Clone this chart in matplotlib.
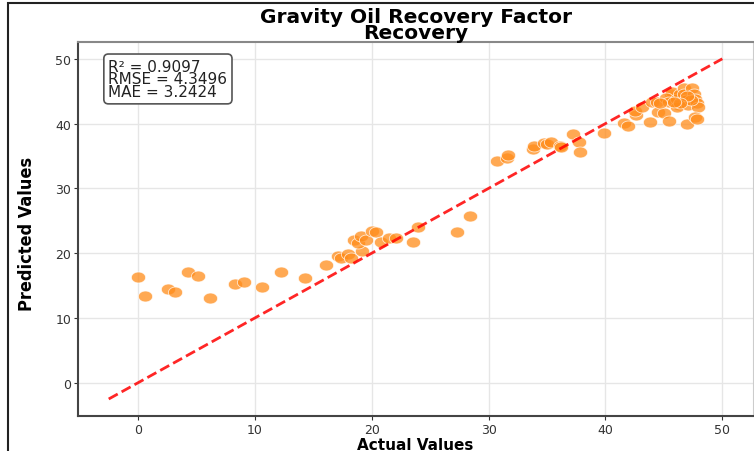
import numpy as np
import matplotlib.pyplot as plt
from matplotlib import font_manager
from matplotlib.patches import Rectangle

# Actual vs predicted values
actual = [0.0, 0.6, 2.6, 3.2, 4.3, 5.1, 6.2, 8.3, 9.1, 10.6, 12.2, 14.3, 16.1,
          17.1, 17.4, 18.0, 18.2, 19.2, 18.5, 18.8, 19.1, 19.5, 20.0, 20.4, 20.8,
          21.5, 22.1, 23.5, 24.0, 27.3, 28.4, 30.7, 31.6, 31.7, 33.8, 33.9, 34.7,
          35.0, 35.3, 36.1, 36.2, 37.2, 37.7, 37.8, 39.9, 41.6, 41.9, 42.6, 42.5,
          43.1, 43.8, 44.0, 44.4, 44.5, 45.0, 45.4, 45.6, 45.7, 45.2, 45.4, 46.1,
          46.3, 46.1, 46.4, 46.7, 46.7, 46.9, 47.1, 47.0, 47.4, 47.6, 47.7, 47.8,
          47.9, 47.7, 47.8, 47.3, 47.0, 46.4, 45.9, 44.7]
predicted = [16.4, 13.4, 14.5, 14.0, 17.1, 16.5, 13.1, 15.2, 15.6, 14.8, 17.1, 16.2, 18.2,
             19.6, 19.2, 19.9, 19.2, 20.3, 22.0, 21.6, 22.6, 22.1, 23.4, 23.2, 21.8,
             22.4, 22.3, 21.8, 24.1, 23.3, 25.7, 34.2, 34.7, 35.1, 36.1, 36.6, 37.0,
             36.8, 37.1, 36.6, 36.4, 38.4, 37.1, 35.6, 38.6, 40.1, 39.6, 41.4, 41.9,
             42.5, 40.3, 43.3, 43.4, 41.8, 41.6, 40.4, 44.5, 44.8, 43.9, 43.3, 43.8,
             42.8, 42.5, 44.5, 45.5, 44.6, 43.7, 42.9, 40.0, 45.5, 44.6, 43.8, 43.2,
             42.5, 41.0, 40.7, 43.6, 44.2, 43.2, 43.3, 43.2]
ideal = [-2.5, 50]
metrics = "R² = 0.9097\nRMSE = 4.3496\nMAE = 3.2424"

# a narrow bold font for the y label, if one is installed
narrow = None
for f in font_manager.fontManager.ttflist:
    if ('Narrow' in f.name or 'Condensed' in f.name or f.stretch in ('condensed', 'semi-condensed')) \
            and f.weight in ('bold', 700):
        narrow = f.fname
        break
if narrow:
    ylab_font = font_manager.FontProperties(fname=narrow, size=13)
else:
    ylab_font = font_manager.FontProperties(family='Roboto', weight='bold', size=12.5)

fig = plt.figure(figsize=(7.54, 4.52), dpi=100)
ax = fig.add_axes([0.1035, 0.0774, 0.8952, 0.828])

# slightly wide ellipse marker (reference image is stretched horizontally)
t = np.linspace(0, 2 * np.pi, 60)
ell = np.column_stack([1.3 * np.cos(t), np.sin(t)])

ax.scatter(actual, predicted, marker=ell, s=105, color='#ff8c1a', alpha=0.75,
           edgecolors='white', linewidths=0.6, zorder=3)
ax.plot(ideal, ideal, 'r--', lw=2, alpha=0.85, zorder=4)

ax.set_xticks([0, 10, 20, 30, 40, 50])
ax.set_yticks([0, 10, 20, 30, 40, 50])
ax.grid(True, color='#e6e6e6', lw=1)
ax.set_axisbelow(True)
ax.tick_params(labelsize=9, labelcolor='#333333', color='#333333', length=3, pad=2)

ax.spines['left'].set_color('#444444')
ax.spines['bottom'].set_color('#444444')
ax.spines['left'].set_linewidth(1.5)
ax.spines['bottom'].set_linewidth(1.5)
ax.spines['top'].set_color('#888888')
ax.spines['top'].set_linewidth(1.5)
ax.spines['right'].set_color('#cccccc')

ax.set_title('Gravity Oil Recovery Factor\nRecovery', fontsize=14.5,
             fontweight='bold', linespacing=0.8, pad=1)
ax.set_xlabel('Actual Values', fontsize=11, fontweight='bold')
ax.xaxis.set_label_coords(0.5, -0.055)
ax.set_ylabel('Predicted Values', fontproperties=ylab_font)
ax.yaxis.set_label_coords(-0.062, 0.49)

ax.text(0.045, 0.955, metrics, transform=ax.transAxes, fontsize=11,
        va='top', ha='left', linespacing=0.82, color='#222222',
        bbox=dict(boxstyle='round,pad=0.3', facecolor='white', edgecolor='#555555', lw=1.2))

# screenshot frame at left and top
fig.patches.append(Rectangle((8 / 754, -0.1), 1.2, 1.1 - 4 / 452, transform=fig.transFigure,
                             fill=False, edgecolor='#222222', lw=1.5))

plt.savefig('out.png', dpi=100)
